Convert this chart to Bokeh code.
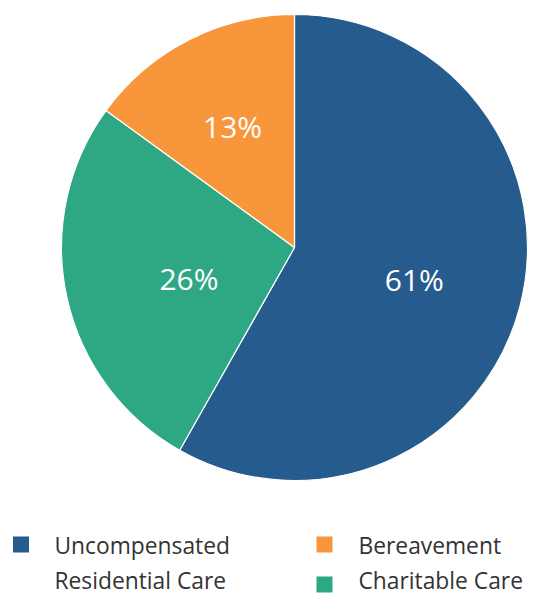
import math
from bokeh.plotting import figure
from bokeh.models import Range1d, ColumnDataSource
from bokeh.core.properties import value
from bokeh.embed import file_html
from bokeh.resources import INLINE

# ---- data ----
categories = ["Uncompensated\nResidential Care", "Charitable Care", "Bereavement"]
shares = [58.2, 26.8, 15.0]
pct_labels = ["61%", "26%", "13%"]
colors = ["#265b8e", "#2ea784", "#f7963a"]

# ---- layout (page pixel coordinates) ----
PAGE_W, PAGE_H = 548, 595
W, H = PAGE_W, PAGE_H
def Y(py):
    return PAGE_H - py

CX, CY, R = 294, Y(247), 233
label_r = [0.532, 0.472, 0.585]
label_da = [0.0, 4.2, 0.0]

p = figure(width=W, height=H, output_backend="svg", toolbar_location=None,
           x_range=Range1d(0, PAGE_W), y_range=Range1d(0, PAGE_H),
           x_axis_location=None, y_axis_location=None, min_border=0,
           outline_line_color=None, background_fill_color="white",
           border_fill_color="white")
p.grid.visible = False

total = sum(shares)
starts, ends, lx, ly = [], [], [], []
cum = 0.0
for i, s in enumerate(shares):
    a_end = math.pi / 2 - 2 * math.pi * cum / total
    cum += s
    a_start = math.pi / 2 - 2 * math.pi * cum / total
    starts.append(a_start)
    ends.append(a_end)
    mid = (a_start + a_end) / 2 + math.radians(label_da[i])
    lx.append(CX + label_r[i] * R * math.cos(mid))
    ly.append(CY + label_r[i] * R * math.sin(mid))

src = ColumnDataSource(dict(start=starts, end=ends, color=colors, lx=lx, ly=ly, lab=pct_labels))
p.wedge(x=CX, y=CY, radius=R, start_angle="start", end_angle="end", direction="anticlock",
        fill_color="color", line_color="white", line_width=1.2, source=src)
p.text(x="lx", y="ly", text="lab", source=src, text_color="white",
       text_font=value("Open Sans"), text_font_size="30px",
       text_align="center", text_baseline="middle")

# ---- legend ----
leg_sq_x = [20.5, 324, 324]
leg_sq_y = [544, 584, 544]
leg_tx = [54, 358, 358]
leg_base = [545, 580, 545]
LINE = 35
sx, sy, tx, ty, tt = [], [], [], [], []
for i, cat in enumerate(categories):
    sx.append(leg_sq_x[i]); sy.append(Y(leg_sq_y[i]))
    for j, line in enumerate(cat.split("\n")):
        tx.append(leg_tx[i]); ty.append(Y(leg_base[i] + j * LINE)); tt.append(line)
p.scatter(x=sx, y=sy, marker="square", size=16, fill_color=colors, line_color=None)
p.text(x=tx, y=ty, text=tt, text_color="#333333", text_font=value("Open Sans"),
       text_font_size="22.8px", text_align="left", text_baseline="alphabetic")

open("out.html", "w").write(file_html(p, INLINE))
